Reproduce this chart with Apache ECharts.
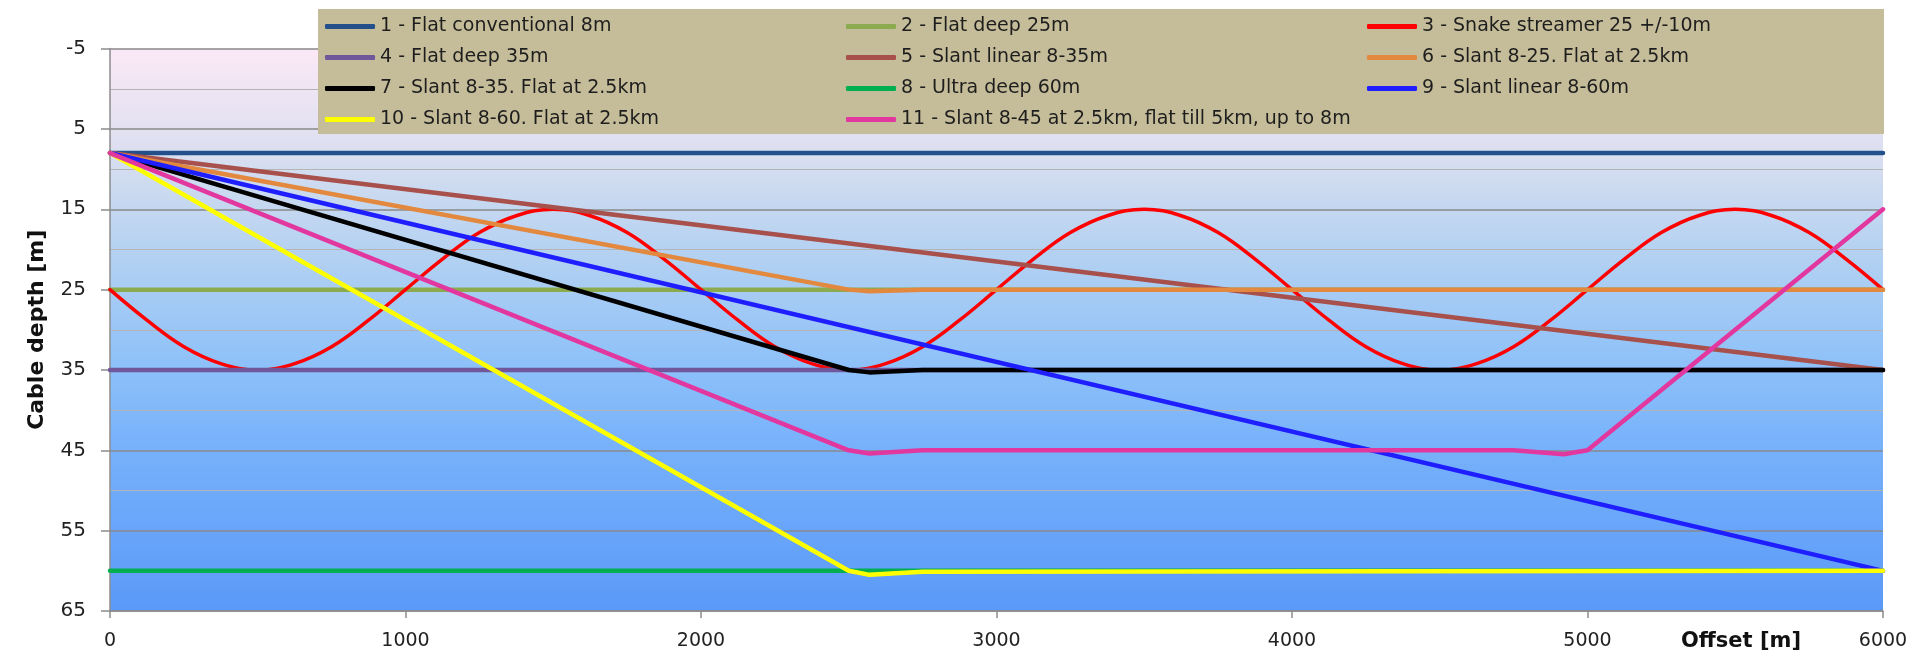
<!DOCTYPE html>
<html>
<head>
<meta charset="utf-8">
<script src="https://cdn.jsdelivr.net/npm/echarts@6/dist/echarts.min.js"></script>
<style>
  html, body { margin: 0; padding: 0; background: #ffffff; }
  #chart { width: 1913px; height: 654px; }
</style>
</head>
<body>
<div id="chart"></div>
<script>
// Streamer depth profiles along the cable (offset in metres, depth in metres)
const seriesNames = [
  '1 - Flat conventional 8m',
  '2 - Flat deep 25m',
  '3 - Snake streamer 25 +/-10m',
  '4 - Flat deep 35m',
  '5 - Slant linear 8-35m',
  '6 - Slant 8-25. Flat at 2.5km',
  '7 - Slant 8-35. Flat at 2.5km',
  '8 - Ultra deep 60m',
  '9 - Slant linear 8-60m',
  '10 - Slant 8-60. Flat at 2.5km',
  '11 - Slant 8-45 at 2.5km, flat till 5km, up to 8m'
];
const seriesColors = [
  '#23508b', '#8cab4e', '#ff0000', '#70569b', '#a8504c', '#e2893f',
  '#000000', '#00b050', '#1e1eff', '#ffff00', '#e2379f'
];

// Snake streamer sampled every 125 m
const snakeOffsets = [
  0, 125, 250, 375, 500, 625, 750, 875, 1000, 1125, 1250, 1375, 1500, 1625, 1750, 1875,
  2000, 2125, 2250, 2375, 2500, 2625, 2750, 2875, 3000, 3125, 3250, 3375, 3500, 3625, 3750, 3875,
  4000, 4125, 4250, 4375, 4500, 4625, 4750, 4875, 5000, 5125, 5250, 5375, 5500, 5625, 5750, 5875,
  6000
];
const snakeDepths = [
  25, 28.8, 32.1, 34.2, 35, 34.2, 32.1, 28.8, 25, 21.2, 17.9, 15.8, 15, 15.8, 17.9, 21.2,
  25, 28.8, 32.1, 34.2, 35, 34.2, 32.1, 28.8, 25, 21.2, 17.9, 15.8, 15, 15.8, 17.9, 21.2,
  25, 28.8, 32.1, 34.2, 35, 34.2, 32.1, 28.8, 25, 21.2, 17.9, 15.8, 15, 15.8, 17.9, 21.2,
  25
];

// Piecewise profiles as [offset, depth]; small sags after the bends are kept
const flatConventional = [[0, 8], [6000, 8]];
const flatDeep25 = [[0, 25], [6000, 25]];
const flatDeep35 = [[0, 35], [6000, 35]];
const slantLinear35 = [[0, 8], [6000, 35]];
const slant25Flat = [[0, 8], [2500, 25], [2570, 25.2], [2750, 25], [6000, 25]];
const slant35Flat = [[0, 8], [2500, 35], [2570, 35.3], [2750, 35], [6000, 35]];
const ultraDeep60 = [[0, 60], [6000, 60]];
const slantLinear60 = [[0, 8], [6000, 60]];
const slant60Flat = [[0, 8], [2500, 60], [2570, 60.5], [2750, 60.1], [6000, 60]];
const slant45FlatUp = [[0, 8], [2500, 45], [2570, 45.4], [2750, 45], [4750, 45], [4920, 45.5], [5000, 45], [6000, 15]];

const depthTicks = { min: -5, max: 65, step: 10 };
const offsetTicks = { min: 0, max: 6000, step: 1000 };

const FONT = 'DejaVu Sans';

const snakeData = snakeOffsets.map((x, i) => [x, snakeDepths[i]]);
const profiles = [
  flatConventional, flatDeep25, snakeData, flatDeep35, slantLinear35,
  slant25Flat, slant35Flat, ultraDeep60, slantLinear60, slant60Flat, slant45FlatUp
];

const series = profiles.map((data, i) => ({
  name: seriesNames[i],
  type: 'line',
  data: data,
  smooth: i === 2 ? 0.4 : false,
  symbol: 'none',
  showSymbol: false,
  color: seriesColors[i],
  lineStyle: { color: seriesColors[i], width: i === 2 ? 3.5 : 4.5, cap: 'round', join: 'round' },
  emphasis: { disabled: true },
  z: 2 + i * 0.01
}));

const chart = echarts.init(document.getElementById('chart'), null, { renderer: 'canvas' });
chart.setOption({
  animation: false,
  backgroundColor: '#ffffff',
  grid: {
    left: 110, right: 30, top: 48.6, bottom: 43,
    show: true,
    borderWidth: 0,
    backgroundColor: {
      type: 'linear', x: 0, y: 0, x2: 0, y2: 1,
      colorStops: [
        { offset: 0, color: '#fce8f6' },
        { offset: 0.07, color: '#efe5f4' },
        { offset: 0.18, color: '#dcdff0' },
        { offset: 0.25, color: '#cbdaf0' },
        { offset: 0.38, color: '#b1d0f2' },
        { offset: 0.57, color: '#8cc0f9' },
        { offset: 0.71, color: '#77b1fb' },
        { offset: 1, color: '#5a99f8' }
      ]
    }
  },
  legend: {
    data: seriesNames,
    left: 318, top: 9, width: 1570,
    padding: [7, 6, 4, 7],
    itemGap: 10,
    itemWidth: 50,
    itemHeight: 5,
    icon: 'roundRect',
    backgroundColor: '#c5bd99',
    selectedMode: false,
    textStyle: { fontFamily: FONT, fontSize: 19, color: '#1e1e1e', width: 456, lineHeight: 21 }
  },
  xAxis: {
    type: 'value',
    min: offsetTicks.min, max: offsetTicks.max, interval: offsetTicks.step,
    axisLine: { show: true, onZero: false, lineStyle: { color: '#8c8c8c', width: 1.5 } },
    axisTick: { show: true, length: 7, lineStyle: { color: '#8c8c8c', width: 1.5 } },
    axisLabel: {
      margin: 21, fontFamily: FONT, fontSize: 19, color: '#222222',
      formatter: (v) => String(v)
    },
    splitLine: { show: false }
  },
  yAxis: {
    type: 'value',
    inverse: true,
    min: depthTicks.min, max: depthTicks.max, interval: depthTicks.step,
    name: 'Cable depth [m]',
    nameLocation: 'middle',
    nameGap: 62,
    nameRotate: 90,
    nameTextStyle: { fontFamily: FONT, fontWeight: 'bold', fontSize: 22, color: '#111111' },
    axisLine: { show: true, lineStyle: { color: '#8c8c8c', width: 1.5 } },
    axisTick: { show: true, length: 9, lineStyle: { color: '#8c8c8c', width: 1.5 } },
    axisLabel: {
      margin: 24, fontFamily: FONT, fontSize: 20, color: '#222222',
      formatter: (v) => String(v)
    },
    splitLine: { show: true, lineStyle: { color: '#8a8a8a', width: 1.5 } },
    minorTick: { show: false, splitNumber: 2 },
    minorSplitLine: { show: true, lineStyle: { color: '#b4b4b4', width: 1.2 } }
  },
  graphic: [{
    type: 'text',
    left: 1681, top: 631,
    style: { text: 'Offset [m]', font: 'bold 21px "DejaVu Sans"', fill: '#111111' }
  }],
  series: series
});
</script>
</body>
</html>
